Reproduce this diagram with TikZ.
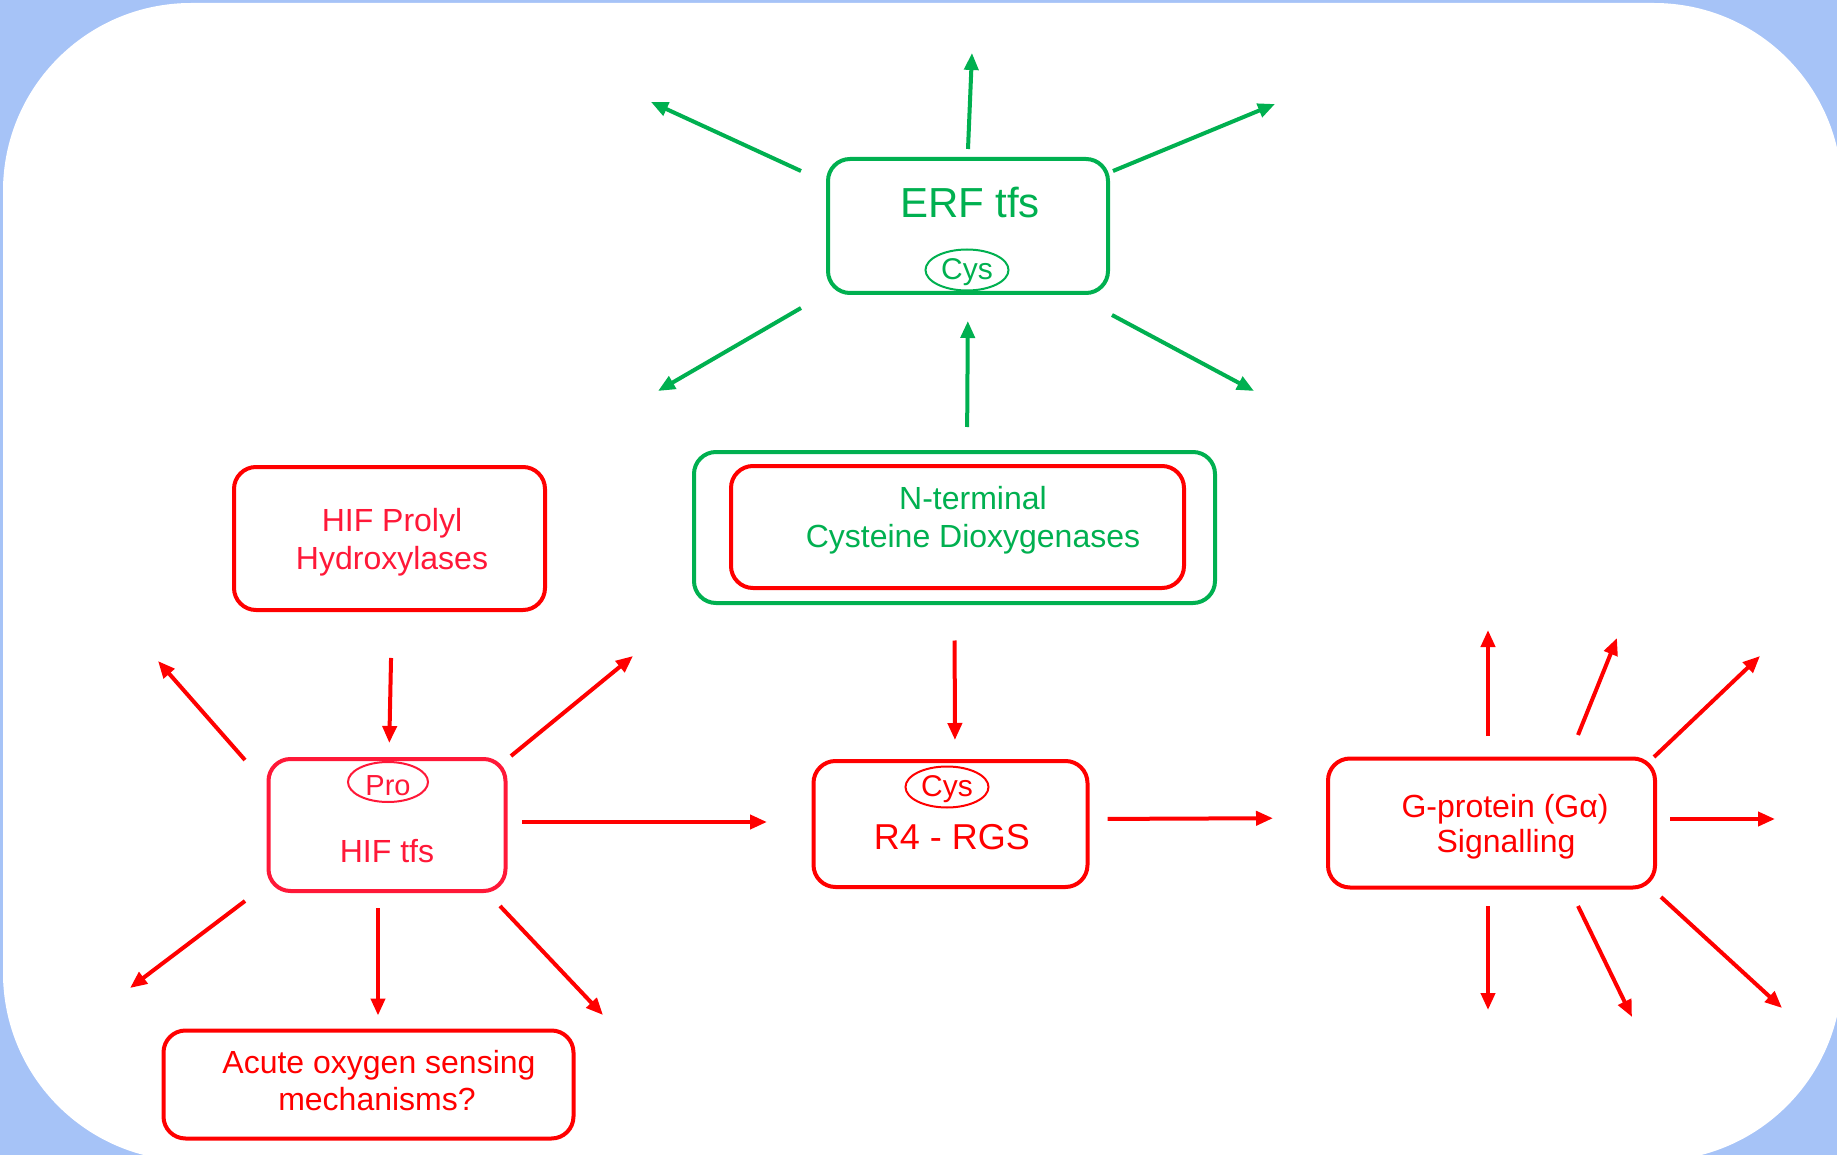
\documentclass[tikz,border=0pt]{standalone}
\usepackage{fontspec}
\setmainfont{Liberation Sans}
\usetikzlibrary{arrows.meta,shapes.geometric}
\definecolor{bgblue}{RGB}{166,195,247}
\definecolor{ogreen}{RGB}{0,176,80}
\definecolor{ored}{RGB}{255,0,0}
\definecolor{hred}{RGB}{255,24,56}
\newcommand\setfs[1]{\fontsize{#1}{#1}\selectfont}
\begin{document}
\begin{tikzpicture}[x=1pt,y=-1pt,
  box/.style={draw, line width=4pt, rounded corners=22pt, inner sep=0pt},
  lbl/.style={anchor=base, inner sep=0pt},
  arr/.style={line width=4pt, -{Triangle[length=17pt,width=14pt]}},
  oval/.style={draw, ellipse, line width=2pt, inner sep=0pt, minimum width=83pt, minimum height=41pt}]
\useasboundingbox (0,0) rectangle (1837,1155);
\fill[bgblue] (0,0) rectangle (1837,1155);
\begin{scope}
  \clip (0,0) rectangle (1837,1155);
  \fill[white, rounded corners=188pt] (3,3) rectangle (1842,1161);
\end{scope}

% ---------- ERF tfs ----------
\node[box, ogreen, minimum width=280pt, minimum height=134pt] (erf) at (968,226) {};
\node[lbl, ogreen] (erft) at (970,218) {\setfs{42}ERF tfs};
\node[oval, ogreen] (erfcys) at (967,270) {};
\node[lbl, ogreen] (erfcyst) at (967,280) {\setfs{30}Cys};

% ---------- NCD ----------
\node[box, ogreen, minimum width=521pt, minimum height=151pt] (ncd) at (954.5,527.5) {};
\node[box, ored, minimum width=453pt, minimum height=122pt] (ncdin) at (957.5,527) {};
\node[lbl, ogreen] (ncdt1) at (973,509) {\setfs{32}N-terminal};
\node[lbl, ogreen] (ncdt2) at (973,547) {\setfs{32}Cysteine Dioxygenases};

% ---------- HIF Prolyl Hydroxylases ----------
\node[box, ored, minimum width=311pt, minimum height=143pt] (hifph) at (389.5,538.5) {};
\node[lbl, hred] (hifpht1) at (392,531) {\setfs{32}HIF Prolyl};
\node[lbl, hred] (hifpht2) at (392,569) {\setfs{32}Hydroxylases};

% ---------- HIF tfs ----------
\node[box, hred, minimum width=237pt, minimum height=132pt] (hiftfs) at (387,825) {};
\node[oval, hred, minimum width=80pt, minimum height=40pt] (pro) at (388,782) {};
\node[lbl, hred] (prot) at (388,795) {\setfs{29}Pro};
\node[lbl, hred] (hiftfst) at (387,862) {\setfs{32}HIF tfs};

% ---------- Acute ----------
\node[box, ored, minimum width=410pt, minimum height=108pt] (acute) at (368.5,1084.5) {};
\node[lbl, ored] (acutet1) at (379,1073) {\setfs{32}Acute oxygen sensing};
\node[lbl, ored] (acutet2) at (377,1110) {\setfs{32}mechanisms?};

% ---------- R4 - RGS ----------
\node[box, ored, minimum width=274pt, minimum height=126pt] (r4) at (950.5,824) {};
\node[oval, ored] (r4cys) at (947,787) {};
\node[lbl, ored] (r4cyst) at (947,796) {\setfs{30}Cys};
\node[lbl, ored] (r4t) at (952,849) {\setfs{36}R4 - RGS};

% ---------- G-protein ----------
\node[box, ored, minimum width=327pt, minimum height=129pt] (gp) at (1491.5,823) {};
\node[lbl, ored] (gpt1) at (1505,817) {\setfs{32}G-protein (Gα)};
\node[lbl, ored] (gpt2) at (1506,852) {\setfs{32}Signalling};

% ---------- arrow end points ----------
\coordinate (e1s) at (968,149);  \coordinate (e1e) at (972,53);
\coordinate (e2s) at (801,171);  \coordinate (e2e) at (651,102);
\coordinate (e3s) at (1113,171); \coordinate (e3e) at (1275,104);
\coordinate (e4s) at (801,308);  \coordinate (e4e) at (658,391);
\coordinate (e5s) at (1112,315); \coordinate (e5e) at (1254,391);

\coordinate (h1s) at (245,760);  \coordinate (h1e) at (158,661);
\coordinate (h2s) at (511,756);  \coordinate (h2e) at (633,656);
\coordinate (h3s) at (245,901);  \coordinate (h3e) at (130,988);
\coordinate (h4s) at (500,906);  \coordinate (h4e) at (603,1015);

\coordinate (g1s) at (1488,736); \coordinate (g1e) at (1488,630);
\coordinate (g2s) at (1578,735); \coordinate (g2e) at (1617,638);
\coordinate (g3s) at (1654,757); \coordinate (g3e) at (1760,656);
\coordinate (g4s) at (1670,819); \coordinate (g4e) at (1775,819);
\coordinate (g5s) at (1488,906); \coordinate (g5e) at (1488,1010);
\coordinate (g6s) at (1578,906); \coordinate (g6e) at (1632,1017);
\coordinate (g7s) at (1661,897); \coordinate (g7e) at (1782,1008);

% ---------- green arrows ----------
\foreach \a in {e1,e2,e3,e4,e5} \draw[arr, ogreen] (\a s) -- (\a e);
\draw[arr, ogreen, shorten <=23pt, shorten >=26pt] ([xshift=12.5pt]ncd.north) -- (erf.south);

% ---------- red arrows ----------
\foreach \a in {h1,h2,h3,h4,g1,g2,g3,g4,g5,g6,g7} \draw[arr, ored] (\a s) -- (\a e);
\draw[arr, ored, shorten <=46pt, shorten >=14pt] ([xshift=2.5pt]hifph.south) -- ([xshift=2pt]hiftfs.north);
\draw[arr, ored, shorten <=14.5pt, shorten >=44.5pt] ([yshift=3pt]hiftfs.east) -- ([yshift=2pt]r4.west);
\draw[arr, ored, shorten <=35.5pt, shorten >=19pt] (ncd.south) -- ([xshift=4.5pt]r4.north);
\draw[arr, ored, shorten <=18pt, shorten >=53pt] ([yshift=5pt]r4.east) -- ([yshift=5pt]gp.west);
\draw[arr, ored, shorten <=15pt, shorten >=13pt] ([xshift=-9pt]hiftfs.south) -- ([xshift=9.5pt]acute.north);
\end{tikzpicture}
\end{document}
